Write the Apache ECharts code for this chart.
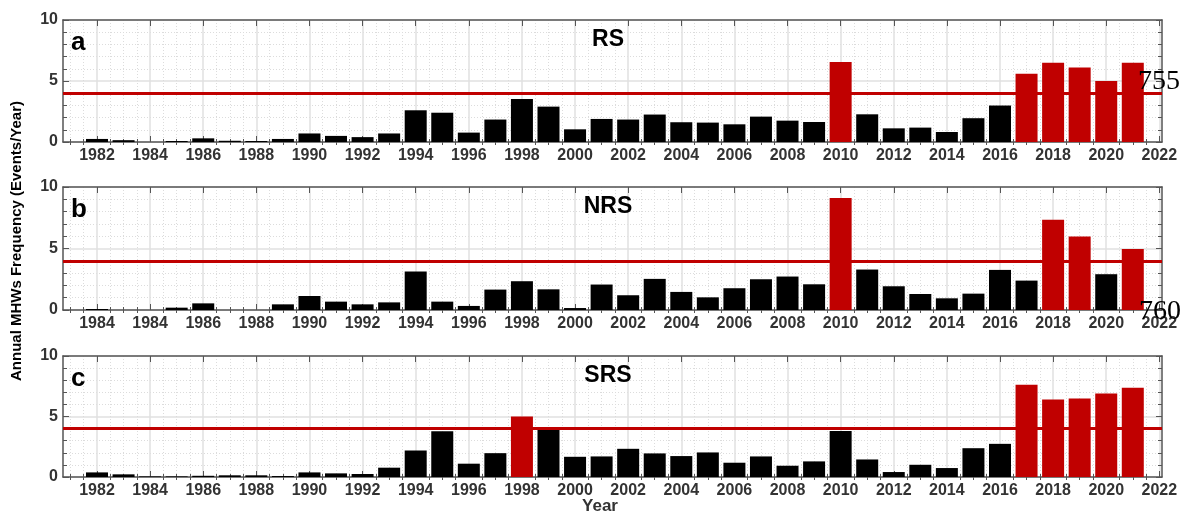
<!DOCTYPE html>
<html>
<head>
    <meta charset="UTF-8">
    <title>Annual MHWs Frequency</title>
    <script src="https://cdn.jsdelivr.net/npm/echarts@6/dist/echarts.min.js"></script>
    <style type="text/css">
        html, body, #main {
            height: 100%;
            width: 100%;
            margin: 0;
            padding: 0;
            background: #fff;
        }
    </style>
</head>
<body>
<div id="main"></div>
<script type="text/javascript">
    // ---- data ----
    var years = [1982, 1983, 1984, 1985, 1986, 1987, 1988, 1989, 1990, 1991,
        1992, 1993, 1994, 1995, 1996, 1997, 1998, 1999, 2000, 2001,
        2002, 2003, 2004, 2005, 2006, 2007, 2008, 2009, 2010, 2011,
        2012, 2013, 2014, 2015, 2016, 2017, 2018, 2019, 2020, 2021];
    var rsValues = [0.25, 0.15, 0, 0.08, 0.3, 0.1, 0.08, 0.25, 0.7, 0.5,
        0.4, 0.7, 2.6, 2.4, 0.77, 1.84, 3.53, 2.9, 1.04, 1.89,
        1.84, 2.25, 1.62, 1.59, 1.45, 2.08, 1.75, 1.64, 6.55, 2.27,
        1.12, 1.18, 0.82, 1.95, 2.99, 5.59, 6.49, 6.11, 5.01, 6.49];
    var nrsValues = [0.08, 0, 0, 0.19, 0.54, 0, 0, 0.46, 1.14, 0.68,
        0.46, 0.62, 3.13, 0.68, 0.33, 1.66, 2.34, 1.68, 0.16, 2.07,
        1.2, 2.53, 1.47, 1.03, 1.77, 2.5, 2.72, 2.09, 9.1, 3.29,
        1.93, 1.3, 0.95, 1.33, 3.26, 2.39, 7.34, 5.98, 2.91, 4.95];
    var srsValues = [0.38, 0.22, 0.05, 0.05, 0.1, 0.14, 0.14, 0.08, 0.38, 0.3,
        0.25, 0.77, 2.19, 3.78, 1.1, 1.97, 5.01, 3.89, 1.67, 1.7,
        2.33, 1.95, 1.73, 2.03, 1.18, 1.7, 0.93, 1.29, 3.81, 1.45,
        0.41, 1.01, 0.74, 2.38, 2.74, 7.62, 6.41, 6.49, 6.9, 7.37];
    var threshold = 4;
    var tickYears = [1982, 1984, 1986, 1988, 1990, 1992, 1994, 1996, 1998, 2000, 2002,
        2004, 2006, 2008, 2010, 2012, 2014, 2016, 2018, 2020, 2022];
    var tickLabels = ['1982', '1984', '1986', '1988', '1990', '1992', '1994', '1996', '1998', '2000', '2002',
        '2004', '2006', '2008', '2010', '2012', '2014', '2016', '2018', '2020', '2022'];
    var tickLabelsNrs = ['1984', '1984', '1986', '1988', '1990', '1992', '1994', '1996', '1998', '2000', '2002',
        '2004', '2006', '2008', '2010', '2012', '2014', '2016', '2018', '2020', '2022'];
    var minorYears = [1981, 1981.5, 1982.5, 1983, 1983.5, 1984.5, 1985, 1985.5, 1986.5, 1987, 1987.5,
        1988.5, 1989, 1989.5, 1990.5, 1991, 1991.5, 1992.5, 1993, 1993.5, 1994.5, 1995, 1995.5,
        1996.5, 1997, 1997.5, 1998.5, 1999, 1999.5, 2000.5, 2001, 2001.5, 2002.5, 2003, 2003.5,
        2004.5, 2005, 2005.5, 2006.5, 2007, 2007.5, 2008.5, 2009, 2009.5, 2010.5, 2011, 2011.5,
        2012.5, 2013, 2013.5, 2014.5, 2015, 2015.5, 2016.5, 2017, 2017.5, 2018.5, 2019, 2019.5,
        2020.5, 2021, 2021.5];

    var XMIN = 1980.72, XMAX = 2022.1;
    var RED = '#c00000', FRAME = '#555';
    var panels = [
        {name: 'RS', letter: 'a', values: rsValues, labels: tickLabels, top: 20, height: 122},
        {name: 'NRS', letter: 'b', values: nrsValues, labels: tickLabelsNrs, top: 187, height: 123},
        {name: 'SRS', letter: 'c', values: srsValues, labels: tickLabels, top: 356, height: 121}
    ];

    var grids = [], xAxes = [], yAxes = [], series = [], texts = [];
    panels.forEach(function (p, i) {
        grids.push({left: 63, right: 19, top: p.top, height: p.height});
        // major bottom axis: labels, long ticks, solid grid
        xAxes.push({
            type: 'value', gridIndex: i, min: XMIN, max: XMAX, position: 'bottom',
            axisLine: {show: true, onZero: false, lineStyle: {color: FRAME, width: 1.5}},
            axisTick: {show: true, inside: true, length: 6, customValues: tickYears, lineStyle: {color: FRAME}},
            axisLabel: {
                show: true, customValues: tickYears, margin: 6,
                fontFamily: 'Liberation Sans', fontWeight: 'bold', fontSize: 16, color: '#333',
                formatter: (function (labels) {
                    return function (v) {
                        var k = tickYears.indexOf(Math.round(v));
                        return k >= 0 ? labels[k] : '';
                    };
                })(p.labels)
            },
            splitLine: {show: true, lineStyle: {color: '#e0e0e0', width: 1.5}}
        });
        // minor bottom axis: short ticks, dotted grid
        xAxes.push({
            type: 'value', gridIndex: i, min: XMIN, max: XMAX, position: 'bottom',
            axisLine: {show: false},
            axisTick: {show: true, inside: true, length: 3, customValues: minorYears, lineStyle: {color: FRAME}},
            axisLabel: {show: false},
            splitLine: {show: true, lineStyle: {color: '#dcdcdc', type: [1, 2]}}
        });
        // top frame
        xAxes.push({
            type: 'value', gridIndex: i, min: XMIN, max: XMAX, position: 'top',
            axisLine: {show: true, onZero: false, lineStyle: {color: FRAME, width: 1.5}},
            axisTick: {show: true, inside: true, length: 6, customValues: tickYears, lineStyle: {color: FRAME}},
            axisLabel: {show: false}, splitLine: {show: false}
        });
        xAxes.push({
            type: 'value', gridIndex: i, min: XMIN, max: XMAX, position: 'top',
            axisLine: {show: false},
            axisTick: {show: true, inside: true, length: 3, customValues: minorYears, lineStyle: {color: FRAME}},
            axisLabel: {show: false}, splitLine: {show: false}
        });
        yAxes.push({
            type: 'value', gridIndex: i, min: 0, max: 10, interval: 5, position: 'left',
            axisLine: {show: true, onZero: false, lineStyle: {color: FRAME, width: 1.5}},
            axisTick: {show: true, inside: true, length: 6, lineStyle: {color: FRAME}},
            minorTick: {show: true, splitNumber: 5, length: 4, lineStyle: {color: FRAME}},
            axisLabel: {margin: 5, fontFamily: 'Liberation Sans', fontWeight: 'bold', fontSize: 16, color: '#333'},
            splitLine: {show: true, lineStyle: {color: '#e0e0e0', width: 1.5}},
            minorSplitLine: {show: true, lineStyle: {color: '#dcdcdc', type: [1, 2]}}
        });
        yAxes.push({
            type: 'value', gridIndex: i, min: 0, max: 10, interval: 5, position: 'right',
            axisLine: {show: true, onZero: false, lineStyle: {color: FRAME, width: 1.5}},
            axisTick: {show: true, inside: true, length: 6, lineStyle: {color: FRAME}},
            minorTick: {show: true, splitNumber: 5, length: 4, lineStyle: {color: FRAME}},
            axisLabel: {show: false}, splitLine: {show: false}
        });

        series.push({
            type: 'bar', name: p.name,
            xAxisIndex: i * 4, yAxisIndex: i * 2,
            barWidth: 22,
            data: years.map(function (y, k) { return [y, p.values[k]]; }),
            itemStyle: {
                color: function (params) {
                    return params.value[1] > threshold ? RED : '#000';
                }
            },
            markLine: {
                silent: true, symbol: ['none', 'none'],
                label: {show: false},
                lineStyle: {color: RED, width: 3, type: 'solid'},
                data: [{yAxis: threshold}]
            }
        });

        texts.push({
            type: 'text', left: 71, top: p.top + 10, z: 100,
            style: {text: p.letter, font: 'bold 26px "Liberation Sans"', fill: '#000'}
        });
        texts.push({
            type: 'text', x: 608, y: p.top + 19.5, z: 100,
            style: {text: p.name, font: 'bold 23px "Liberation Sans"', fill: '#000',
                textAlign: 'center', textVerticalAlign: 'middle'}
        });
    });

    // stray numbers in the original figure
    texts.push({type: 'text', x: 1138, y: 82, z: 100,
        style: {text: '755', font: '28px "Liberation Serif"', fill: '#000', textVerticalAlign: 'middle'}});
    texts.push({type: 'text', x: 1139, y: 312, z: 100,
        style: {text: '760', font: '28px "Liberation Serif"', fill: '#000', textVerticalAlign: 'middle'}});
    // axis titles
    texts.push({type: 'text', x: 17, y: 241, rotation: Math.PI / 2, z: 100,
        style: {text: 'Annual MHWs Frequency (Events/Year)', font: 'bold 15px "Liberation Sans"', fill: '#000',
            textAlign: 'center', textVerticalAlign: 'middle'}});
    texts.push({type: 'text', x: 600, y: 506, z: 100,
        style: {text: 'Year', font: 'bold 17px "Liberation Sans"', fill: '#333',
            textAlign: 'center', textVerticalAlign: 'middle'}});

    var mycharts = echarts.init(document.getElementById('main'));
    mycharts.setOption({
        animation: false,
        grid: grids,
        xAxis: xAxes,
        yAxis: yAxes,
        series: series,
        graphic: texts
    });
</script>
</body>
</html>
